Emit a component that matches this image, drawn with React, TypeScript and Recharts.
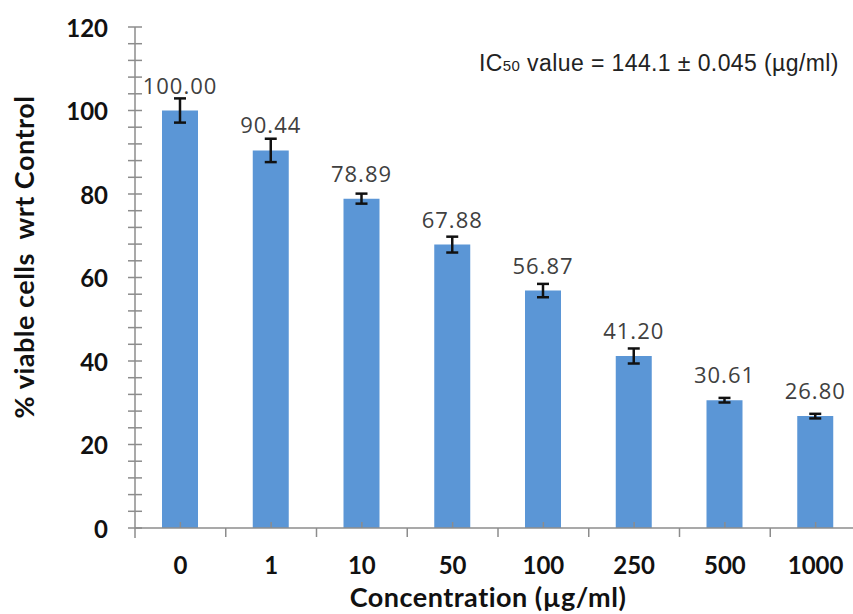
import React from "react";
import { BarChart, Bar, XAxis, YAxis, ErrorBar, LabelList } from "recharts";

const concentrations = ["0", "1", "10", "50", "100", "250", "500", "1000"];
const viability = [100.0, 90.44, 78.89, 67.88, 56.87, 41.2, 30.61, 26.8];
const viabilityErr = [2.9, 2.8, 1.2, 1.9, 1.6, 1.8, 0.55, 0.55];
const majorTicks = [0, 20, 40, 60, 80, 100, 120];
const allTicks = [
  0, 4, 8, 12, 16, 20, 24, 28, 32, 36, 40, 44, 48, 52, 56, 60,
  64, 68, 72, 76, 80, 84, 88, 92, 96, 100, 104, 108, 112, 116, 120,
];

const data = concentrations.map((c, i) => ({
  name: c,
  value: viability[i],
  err: viabilityErr[i],
}));

const W = 861;
const H = 614;
const X_AXIS_H = 30;
const M = { top: 27, right: 0, left: 0, bottom: 86 - X_AXIS_H };
const Y_AXIS_W = 135;
const BAND = (W - Y_AXIS_W) / concentrations.length;
const AXIS_GRAY = "#8c8c8c";
const FONT = "Lato, 'Open Sans', sans-serif";

const YTick = (props: any) => {
  const { x, y, payload } = props;
  const v = payload.value;
  return (
    <g>
      <line x1={x - 7} x2={x + 7} y1={y} y2={y} stroke={AXIS_GRAY} strokeWidth={1.5} />
      {v === 0 && <line x1={x} x2={x} y1={y} y2={y + 10} stroke={AXIS_GRAY} strokeWidth={1.5} />}
      {majorTicks.includes(v) && (
        <text x={x - 27} y={y} textAnchor="end" dominantBaseline="central"
          fontFamily={FONT} fontWeight={700} fontSize={24} fill="#111">
          {v}
        </text>
      )}
    </g>
  );
};

const XTick = (props: any) => {
  const { x, y, payload } = props;
  const right = x + BAND / 2;
  return (
    <g>
      <line x1={x} x2={x} y1={y - 6} y2={y} stroke={AXIS_GRAY} strokeWidth={1.5} />
      <line x1={right} x2={right} y1={y} y2={y + 9} stroke={AXIS_GRAY} strokeWidth={1.5} />
      <text x={x} y={y + 46} textAnchor="middle"
        fontFamily={FONT} fontWeight={700} fontSize={24} fill="#111">
        {payload.value}
      </text>
    </g>
  );
};

const ValueLabel = (props: any) => {
  const { x, y, width, value } = props;
  return (
    <text x={x + width / 2} y={y - 26} textAnchor="middle" dominantBaseline="central"
      fontFamily="'Open Sans', sans-serif" fontSize={22} letterSpacing={1} fill="#404040">
      {Number(value).toFixed(2)}
    </text>
  );
};

export default function App() {
  return (
    <div style={{ position: "relative", width: 853, height: H, overflow: "hidden", background: "#fff" }}>
      <style>{"body{margin:0}"}</style>
      <BarChart width={W} height={H} data={data} margin={M} barCategoryGap={0}>
        <XAxis
          dataKey="name"
          height={X_AXIS_H}
          axisLine={{ stroke: AXIS_GRAY, strokeWidth: 1.5 }}
          tickLine={false}
          tickSize={0}
          tickMargin={0}
          interval={0}
          tick={<XTick />}
        />
        <YAxis
          width={Y_AXIS_W}
          domain={[0, 120]}
          ticks={allTicks}
          interval={0}
          axisLine={{ stroke: AXIS_GRAY, strokeWidth: 1.5 }}
          tickLine={false}
          tickSize={0}
          tickMargin={0}
          tick={<YTick />}
        />
        <Bar dataKey="value" fill="#5B96D6" barSize={36} isAnimationActive={false}>
          <ErrorBar dataKey="err" width={6} stroke="#111" strokeWidth={2.5} isAnimationActive={false} />
          <LabelList dataKey="value" content={<ValueLabel />} />
        </Bar>
      </BarChart>
      <div style={{
        position: "absolute", left: 23, top: 257, transform: "translate(-50%, -50%) rotate(-90deg)",
        whiteSpace: "pre", fontFamily: FONT, fontWeight: 700, fontSize: 27, letterSpacing: 0.5, color: "#111",
      }}>
        {"% viable cells  wrt Control"}
      </div>
      <div style={{
        position: "absolute", left: 488, top: 596, transform: "translate(-50%, -50%)",
        whiteSpace: "nowrap", fontFamily: FONT, fontWeight: 700, fontSize: 27, lineHeight: 1,
        letterSpacing: 0.5, color: "#111",
      }}>
        Concentration (µg/ml)
      </div>
      <div style={{
        position: "absolute", left: 479, top: 63, transform: "translateY(-50%)", whiteSpace: "nowrap",
        fontFamily: "'Liberation Sans', Arial, sans-serif", fontSize: 23, letterSpacing: 0.4, color: "#222",
      }}>
        IC<span style={{ fontSize: 15 }}>50</span> value = 144.1 ± 0.045 (µg/ml)
      </div>
    </div>
  );
}
